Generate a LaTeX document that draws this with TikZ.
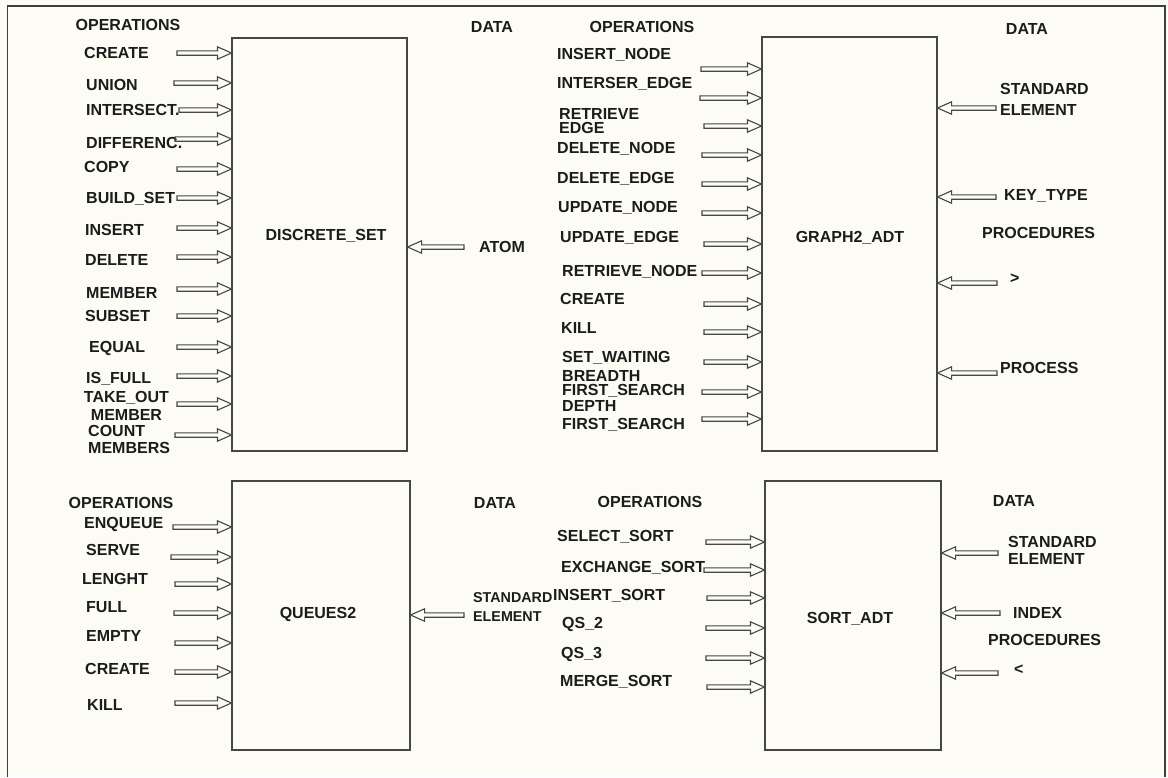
\documentclass[tikz,border=0pt]{standalone}
\usepackage{fontspec}
\setmainfont{Liberation Sans}
\usetikzlibrary{calc}
\definecolor{paper}{RGB}{252,252,244}
\definecolor{ink}{RGB}{28,28,28}
\definecolor{edge}{RGB}{70,70,70}
\newcommand\holarrow[2]{\draw[hol] let \p1=(#1), \p2=(#2), \n1={\x2-(\x2-\x1)/abs(\x2-\x1)*14pt} in
  (\x1,\y1+2.2pt) -- (\n1,\y1+2.2pt) -- (\n1,\y1+6.2pt) -- (\x2,\y1)
  -- (\n1,\y1-6.2pt) -- (\n1,\y1-2.2pt) -- (\x1,\y1-2.2pt) -- cycle;}
\begin{document}
\begin{tikzpicture}[x=1pt,y=-1pt,
  lbl/.style={font=\bfseries\fontsize{16}{18}\selectfont, inner sep=0pt, text=ink},
  one/.style={lbl, text height=11.5pt, text depth=0pt, anchor=west},
  hd/.style={lbl, text height=11.5pt, text depth=0pt, anchor=center},
  two/.style={lbl, align=left, anchor=north west},
  adt/.style={draw=edge, line width=1.1pt, inner sep=0pt, rectangle},
  hol/.style={draw=edge, line width=1.1pt, line join=miter}
]
\useasboundingbox[fill=paper] (0,0) rectangle (1168,777);
\draw[line width=1.7pt, draw=ink!85] (7.5,777) -- (7.5,6) -- (1165,6) -- (1165,777);

% ---------- boxes ----------
\node[adt, minimum width=175pt, minimum height=413pt] (DS) at (319.5,244.5) {};
\node[adt, minimum width=175pt, minimum height=414pt] (G2) at (849.5,244) {};
\node[adt, minimum width=178pt, minimum height=269pt] (Q2) at (321,615.5) {};
\node[adt, minimum width=176pt, minimum height=269pt] (SA) at (853,615.5) {};
\node[hd] (DSl) at (326,235) {DISCRETE\_SET};
\node[hd] (G2l) at (850,237) {GRAPH2\_ADT};
\node[hd] (Q2l) at (318,613) {QUEUES2};
\node[hd] (SAl) at (850,618) {SORT\_ADT};

% ---------- top left: DISCRETE_SET ----------
\node[hd] (opTL) at (128,25) {OPERATIONS};
\node[hd] (dtTL) at (492,27) {DATA};
\node[one] (tl1) at (84,53) {CREATE};        \coordinate (ta1) at (177,53);
\node[one] (tl2) at (86,85) {UNION};         \coordinate (ta2) at (174,83);
\node[one] (tl3) at (86,110) {INTERSECT.};   \coordinate (ta3) at (179,110);
\node[one] (tl4) at (86,143) {DIFFERENC.};   \coordinate (ta4) at (175,139);
\node[one] (tl5) at (84,167) {COPY};         \coordinate (ta5) at (177,169);
\node[one] (tl6) at (86,198) {BUILD\_SET};   \coordinate (ta6) at (177,198);
\node[one] (tl7) at (85,230) {INSERT};       \coordinate (ta7) at (177,228);
\node[one] (tl8) at (85,260) {DELETE};       \coordinate (ta8) at (177,257);
\node[one] (tl9) at (86,293) {MEMBER};       \coordinate (ta9) at (177,289);
\node[one] (tl10) at (85,316) {SUBSET};      \coordinate (ta10) at (177,316);
\node[one] (tl11) at (89,347) {EQUAL};       \coordinate (ta11) at (177,347);
\node[one] (tl12) at (86,378) {IS\_FULL};    \coordinate (ta12) at (177,376);
\node[lbl, align=center, anchor=north, font=\bfseries\fontsize{16}{18}\selectfont] (tl13) at (126.5,391.2) {TAKE\_OUT\\MEMBER};
\coordinate (ta13) at (177,404);
\node[two, font=\bfseries\fontsize{16}{17}\selectfont] (tl14) at (88,425.2) {COUNT\\MEMBERS};
\coordinate (ta14) at (175,435);
\foreach \i in {1,...,14} {\holarrow{ta\i}{DS.west|-ta\i}}
\node[one] (atom) at (479,247) {ATOM};       \coordinate (tb1) at (464,247);
\holarrow{tb1}{DS.east|-tb1}

% ---------- top right: GRAPH2_ADT ----------
\node[hd] (opTR) at (642,27) {OPERATIONS};
\node[hd] (dtTR) at (1027,29) {DATA};
\node[one] (gl1) at (557,54) {INSERT\_NODE};     \coordinate (ga1) at (701,69);
\node[one] (gl2) at (557,83) {INTERSER\_EDGE};   \coordinate (ga2) at (700,98);
\node[two, font=\bfseries\fontsize{16}{14}\selectfont] (gl3) at (559,108.2) {RETRIEVE\\EDGE};
\coordinate (ga3) at (704,126);
\node[one] (gl4) at (557,148) {DELETE\_NODE};     \coordinate (ga4) at (702,155);
\node[one] (gl5) at (557,178) {DELETE\_EDGE};     \coordinate (ga5) at (702,184);
\node[one] (gl6) at (558,207) {UPDATE\_NODE};     \coordinate (ga6) at (702,213);
\node[one] (gl7) at (560,237) {UPDATE\_EDGE};     \coordinate (ga7) at (704,244);
\node[one] (gl8) at (562,271) {RETRIEVE\_NODE};   \coordinate (ga8) at (702,273);
\node[one] (gl9) at (560,299) {CREATE};           \coordinate (ga9) at (704,304);
\node[one] (gl10) at (561,328) {KILL};            \coordinate (ga10) at (704,332);
\node[one] (gl11) at (562,357) {SET\_WAITING};    \coordinate (ga11) at (704,362);
\node[two, font=\bfseries\fontsize{16}{14}\selectfont] (gl12) at (562,370.2) {BREADTH\\FIRST\_SEARCH};
\coordinate (ga12) at (702,392);
\node[two, font=\bfseries\fontsize{16}{18}\selectfont] (gl13) at (562,400.2) {DEPTH\\FIRST\_SEARCH};
\coordinate (ga13) at (702,419);
\foreach \i in {1,...,13} {\holarrow{ga\i}{G2.west|-ga\i}}
\node[two, font=\bfseries\fontsize{16}{21}\selectfont] (gr1) at (1000,83.2) {STANDARD\\ELEMENT};
\coordinate (gb1) at (996,108);
\node[one] (gr2) at (1004,195) {KEY\_TYPE};       \coordinate (gb2) at (996,197);
\node[one] (gpr) at (982,233) {PROCEDURES};
\node[one] (gr3) at (1010,278) {>};               \coordinate (gb3) at (997,283);
\node[one] (gr4) at (1000,368) {PROCESS};         \coordinate (gb4) at (997,373);
\foreach \i in {1,...,4} {\holarrow{gb\i}{G2.east|-gb\i}}

% ---------- bottom left: QUEUES2 ----------
\node[hd] (opBL) at (121,503) {OPERATIONS};
\node[hd] (dtBL) at (495,503) {DATA};
\node[one] (ql1) at (84,523) {ENQUEUE};   \coordinate (qa1) at (173,527);
\node[one] (ql2) at (86,550) {SERVE};     \coordinate (qa2) at (171,557);
\node[one] (ql3) at (82,579) {LENGHT};    \coordinate (qa3) at (175,584);
\node[one] (ql4) at (86,607) {FULL};      \coordinate (qa4) at (174,613);
\node[one] (ql5) at (86,636) {EMPTY};     \coordinate (qa5) at (175,643);
\node[one] (ql6) at (85,669) {CREATE};    \coordinate (qa6) at (175,672);
\node[one] (ql7) at (87,705) {KILL};      \coordinate (qa7) at (175,703);
\foreach \i in {1,...,7} {\holarrow{qa\i}{Q2.west|-qa\i}}
\node[two, font=\bfseries\fontsize{14.3}{19}\selectfont] (qr1) at (473,592.8) {STANDARD\\ELEMENT};
\coordinate (qb1) at (464,615);
\holarrow{qb1}{Q2.east|-qb1}

% ---------- bottom right: SORT_ADT ----------
\node[hd] (opBR) at (650,502) {OPERATIONS};
\node[hd] (dtBR) at (1014,501) {DATA};
\node[one] (sl1) at (557,536) {SELECT\_SORT};     \coordinate (sa1) at (706,542);
\node[one] (sl2) at (561,567) {EXCHANGE\_SORT};   \coordinate (sa2) at (704,570);
\node[one] (sl3) at (553,595) {INSERT\_SORT};     \coordinate (sa3) at (707,598);
\node[one] (sl4) at (562,623) {QS\_2};            \coordinate (sa4) at (706,628);
\node[one] (sl5) at (561,653) {QS\_3};            \coordinate (sa5) at (706,658);
\node[one] (sl6) at (560,681) {MERGE\_SORT};      \coordinate (sa6) at (707,687);
\foreach \i in {1,...,6} {\holarrow{sa\i}{SA.west|-sa\i}}
\node[two, font=\bfseries\fontsize{16}{17}\selectfont] (sr1) at (1008,536.2) {STANDARD\\ELEMENT};
\coordinate (sb1) at (998,553);
\node[one] (sr2) at (1013,613) {INDEX};           \coordinate (sb2) at (1000,613);
\node[one] (spr) at (988,640) {PROCEDURES};
\node[one] (sr3) at (1014,669) {<};               \coordinate (sb3) at (998,673);
\foreach \i in {1,...,3} {\holarrow{sb\i}{SA.east|-sb\i}}
\end{tikzpicture}
\end{document}
